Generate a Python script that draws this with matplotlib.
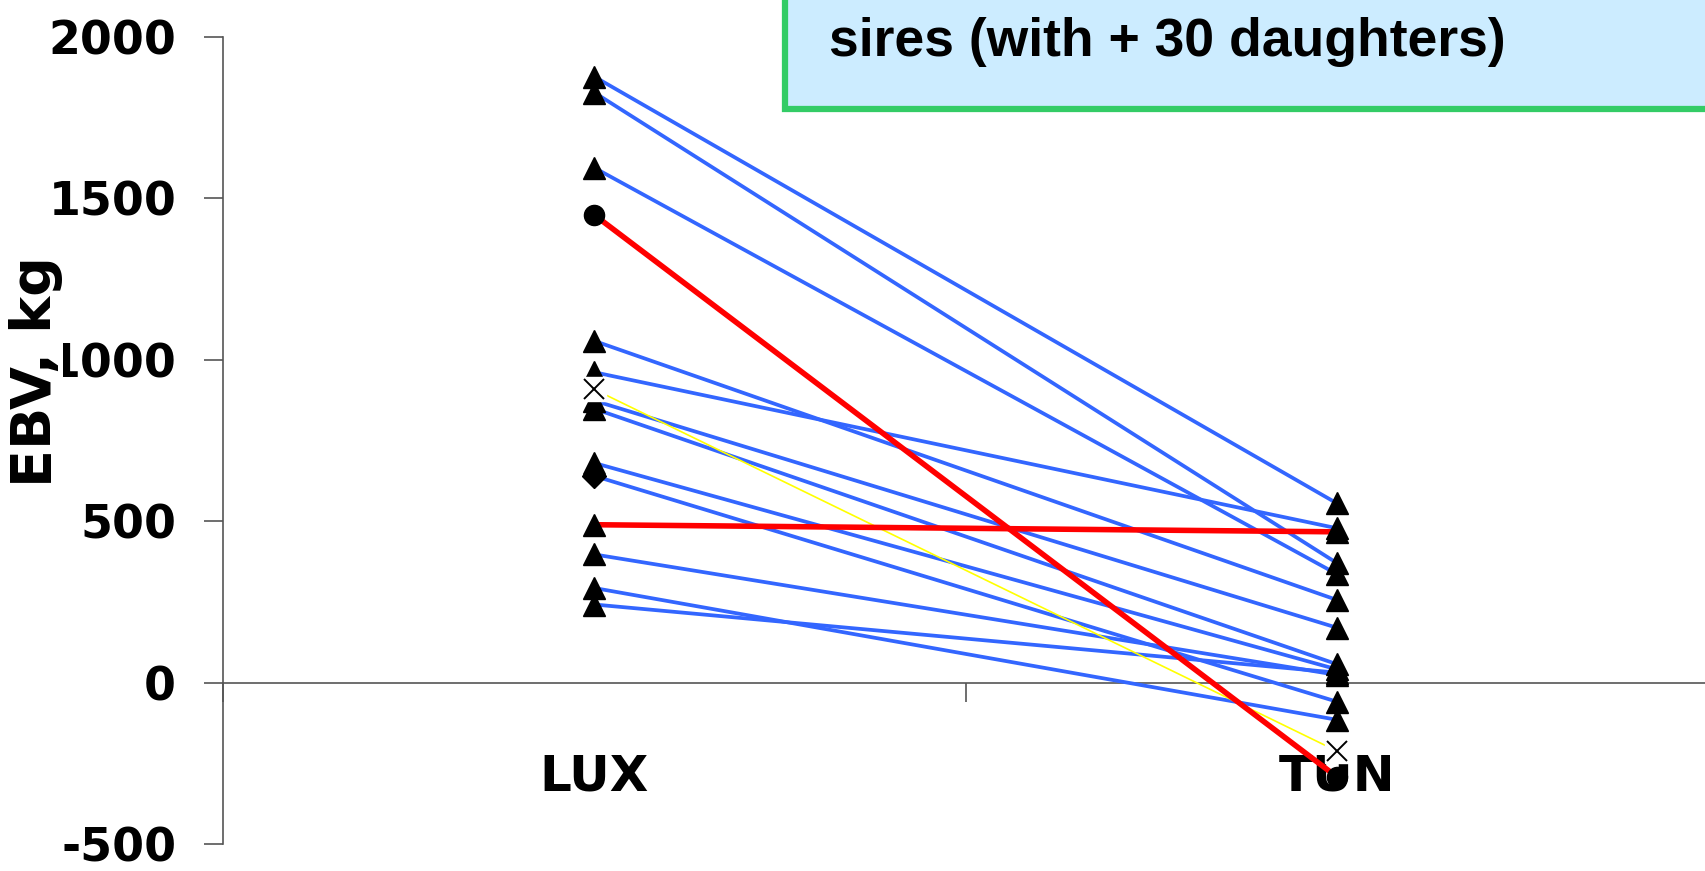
import numpy as np
import matplotlib.pyplot as plt
from matplotlib.patches import Rectangle

plt.rcParams['font.family'] = ['DejaVu Sans']
plt.rcParams['font.weight'] = 'bold'
plt.rcParams['axes.unicode_minus'] = False

categories = ["LUX", "TUN"]
# blue sires: EBV in LUX and TUN
lux_blue = [1876, 1827, 1594, 1058, 961, 873, 848, 680, 640, 397, 293, 242]
tun_blue = [555, 370, 336, 256, 478, 170, 57, 41, -59, 24, -115, 31]
lux_marks = ['^', '^', '^', '^', '^', '^', '^', '^', 'D', '^', '^', '^']
# red sires
lux_red = [1448, 489]
tun_red = [-292, 467]
red_marks = ['o', '^']
# yellow sire
lux_yel = [908]
tun_yel = [-212]

fig = plt.figure(figsize=(17.05, 8.71), dpi=100)
ax = fig.add_axes([0.1308, 0.0308, 0.8712, 0.9271])
x = np.arange(len(categories))

# lines
for a, b in zip(lux_blue, tun_blue):
    ax.plot(x, [a, b], color='#3366FF', lw=2.7, zorder=2, solid_capstyle='butt')
for a, b in zip(lux_yel, tun_yel):
    ax.plot(x, [a, b], color='#FFFF00', lw=1.2, zorder=2.2)
for a, b in zip(lux_red, tun_red):
    ax.plot(x, [a, b], color='#FF0000', lw=4, zorder=2.4, solid_capstyle='butt')

# markers
for a, b, m in zip(lux_blue, tun_blue, lux_marks):
    ax.plot([0], [a], marker=m, ms=16 if m == '^' else 12.5, color='black', ls='none', zorder=4, clip_on=False)
    ax.plot([1], [b], marker='^', ms=16, color='black', ls='none', zorder=4, clip_on=False)
for a, b, m in zip(lux_red, tun_red, red_marks):
    ax.plot(x, [a, b], marker=m, ms=16 if m == '^' else 14.5, color='black', ls='none', zorder=4, clip_on=False)
for a, b in zip(lux_yel, tun_yel):
    ax.plot(x, [a, b], marker='s', ms=17, color='white', ls='none', zorder=4.5, clip_on=False)
    ax.plot(x, [a, b], marker='x', ms=15, mew=1.4, color='black', ls='none', zorder=4.6, clip_on=False)

ax.set_xlim(-0.5, 1.5)
ax.set_ylim(-500, 2000)
ax.set_yticks(np.arange(-500, 2001, 500))
ax.set_xticks([-0.5, 0.5, 1.5])
ax.set_xticklabels([])
ax.set_xticks(x, minor=True)
ax.set_xticklabels(categories, minor=True)

ax.spines['top'].set_visible(False)
ax.spines['right'].set_visible(False)
ax.spines['bottom'].set_position(('data', 0))
for s in ['left', 'bottom']:
    ax.spines[s].set_color('#555555')
    ax.spines[s].set_linewidth(1.2)
    ax.spines[s].set_zorder(1)
ax.set_axisbelow(True)
ax.tick_params(axis='x', which='minor', length=0, pad=50, labelsize=36)
ax.tick_params(axis='x', which='major', length=13.7, width=1.2, color='#555555')
ax.tick_params(axis='y', length=13.7, width=1.2, pad=20, labelsize=33, color='#555555')

fig.text(36 / 1705, 1 - 372 / 871, 'EBV, kg', rotation=90, ha='center', va='center',
         fontsize=40, fontweight='bold', bbox=dict(facecolor='white', edgecolor='none', pad=0))

# note box at the top right
fig.add_artist(Rectangle((785 / 1705, 1 - 109 / 871), 0.7, 0.3, transform=fig.transFigure,
                         facecolor='#CCECFF', edgecolor='#33CC66', lw=4.5, zorder=5))
fig.text(829 / 1705, 1 - 56 / 871, 'sires (with + 30 daughters)', family='Liberation Sans',
         fontsize=38.5, fontweight='bold', va='baseline', zorder=6)

fig.savefig('out.png', dpi=100)
